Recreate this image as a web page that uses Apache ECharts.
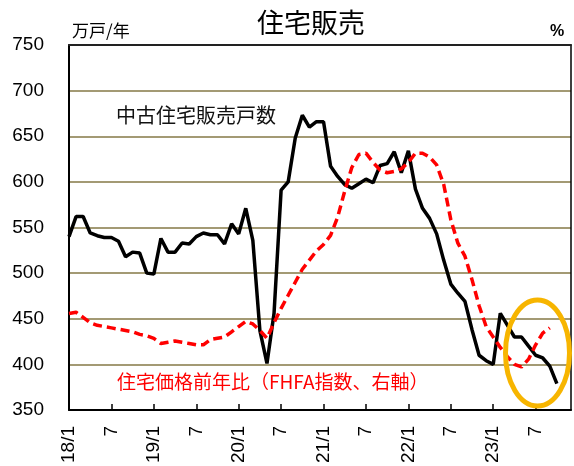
<!DOCTYPE html>
<html>
<head>
<meta charset="utf-8">
<script src="https://cdn.jsdelivr.net/npm/echarts@6/dist/echarts.min.js"></script>
<style>
  html, body { margin: 0; padding: 0; background: #fff; }
  #main { width: 574px; height: 466px; }
</style>
</head>
<body>
<div id="main"></div>
<script>
// 月 (2018/1 - 2023/12)
var months = [
  '18/1', '2', '3', '4', '5', '6', '7', '8', '9', '10', '11', '12',
  '19/1', '2', '3', '4', '5', '6', '7', '8', '9', '10', '11', '12',
  '20/1', '2', '3', '4', '5', '6', '7', '8', '9', '10', '11', '12',
  '21/1', '2', '3', '4', '5', '6', '7', '8', '9', '10', '11', '12',
  '22/1', '2', '3', '4', '5', '6', '7', '8', '9', '10', '11', '12',
  '23/1', '2', '3', '4', '5', '6', '7', '8', '9', '10', '11', '12'
]
// 中古住宅販売戸数 (万戸/年)
var sales = [
  540, 562, 562, 544, 541, 539, 539, 535, 518, 523, 522, 500,
  499, 538, 523, 523, 533, 532, 540, 544, 542, 542, 532, 554,
  543, 571, 536, 437, 401, 456, 591, 600, 648, 673, 660, 666,
  666, 617, 606, 597, 593, 598, 603, 599, 618, 620, 633, 610,
  634, 592, 571, 560, 543, 514, 488, 478, 469, 438, 410, 404,
  400, 456, 443, 430, 430, 420, 410, 407, 398, 379
]
// 住宅価格前年比 (FHFA指数, %)
var price = [
  7.4, 7.5, 7.1, 6.7, 6.5, 6.4, 6.3, 6.2, 6.1, 6.0, 5.8, 5.7,
  5.5, 5.1, 5.2, 5.3, 5.2, 5.1, 5.0, 5.0, 5.4, 5.5, 5.6, 6.0,
  6.4, 6.8, 6.6, 6.1, 5.5, 6.7, 7.8, 8.8, 9.8, 10.8, 11.5, 12.2,
  12.7, 13.4, 14.8, 16.8, 18.6, 19.6, 19.7, 19.0, 18.4, 18.2, 18.3, 18.5,
  19.0, 19.7, 19.7, 19.4, 18.8, 17.3, 14.6, 12.8, 11.8, 10.0, 8.0, 6.4,
  5.6, 4.8, 4.1, 3.5, 3.3, 3.9, 5.0, 5.9, 6.3
]

var cjk = '"Noto Sans CJK JP", "Noto Sans", sans-serif'
var num = '"Liberation Sans", Arial, sans-serif'
var chart = echarts.init(document.getElementById('main'))
var option = {
  animation: false,
  backgroundColor: '#fff',
  title: {
    text: '住宅販売',
    left: 306,
    top: 4,
    textAlign: 'center',
    textStyle: { fontFamily: cjk, fontSize: 27, fontWeight: 'normal', color: '#000' }
  },
  grid: { left: 69, right: 3, top: 45, bottom: 56 },
  xAxis: [
    {
      type: 'category',
      data: months,
      boundaryGap: false,
      axisLine: { lineStyle: { color: '#000', width: 2 } },
      axisTick: { inside: true, length: 6, interval: 5, lineStyle: { color: '#000', width: 1.5 } },
      axisLabel: {
        interval: 5,
        rotate: 90,
        margin: 16,
        fontFamily: num,
        fontSize: 19,
        color: '#000'
      },
      splitLine: { show: false }
    },
    {
      type: 'category',
      position: 'top',
      data: months,
      boundaryGap: false,
      axisLine: { lineStyle: { color: '#222', width: 2 } },
      axisTick: { show: false },
      axisLabel: { show: false }
    }
  ],
  yAxis: [
    {
      type: 'value',
      min: 350,
      max: 750,
      interval: 50,
      axisLine: { show: true, lineStyle: { color: '#000', width: 2 } },
      axisTick: { show: false },
      axisLabel: { margin: 25, fontFamily: num, fontSize: 19, color: '#000' },
      splitLine: { lineStyle: { color: '#a39a74', width: 2 } }
    },
    {
      type: 'value',
      min: 0,
      max: 28,
      interval: 3.5,
      position: 'right',
      axisLine: { show: true, lineStyle: { color: '#000', width: 1.5 } },
      axisTick: { show: false },
      axisLabel: { show: false },
      splitLine: { show: false }
    }
  ],
  graphic: [
    {
      type: 'text', left: 72, top: 22,
      style: { text: '万戸/年', font: '17px ' + cjk, fill: '#000' }
    },
    {
      type: 'text', left: 550, top: 24,
      style: { text: '%', font: 'bold 16px ' + num, fill: '#000' }
    },
    {
      type: 'text', left: 116, top: 105,
      style: { text: '中古住宅販売戸数', font: '20px ' + cjk, fill: '#111' }
    },
    {
      type: 'text', left: 117, top: 372,
      style: { text: '住宅価格前年比（FHFA指数、右軸）', font: '19px ' + cjk, fill: '#ff0000' }
    },
    {
      type: 'ellipse', z: 100,
      shape: { cx: 537.5, cy: 353, rx: 32, ry: 53 },
      style: { fill: 'none', stroke: '#f7b500', lineWidth: 5 }
    }
  ],
  series: [
    {
      name: '中古住宅販売戸数',
      type: 'line',
      data: sales,
      symbol: 'none',
      lineStyle: { color: '#000', width: 3.5 },
      z: 3
    },
    {
      name: '住宅価格前年比',
      type: 'line',
      yAxisIndex: 1,
      data: price,
      symbol: 'none',
      lineStyle: { color: '#ff0000', width: 3.5, type: [9, 5] },
      z: 4
    }
  ]
}
chart.setOption(option)
</script>
</body>
</html>
